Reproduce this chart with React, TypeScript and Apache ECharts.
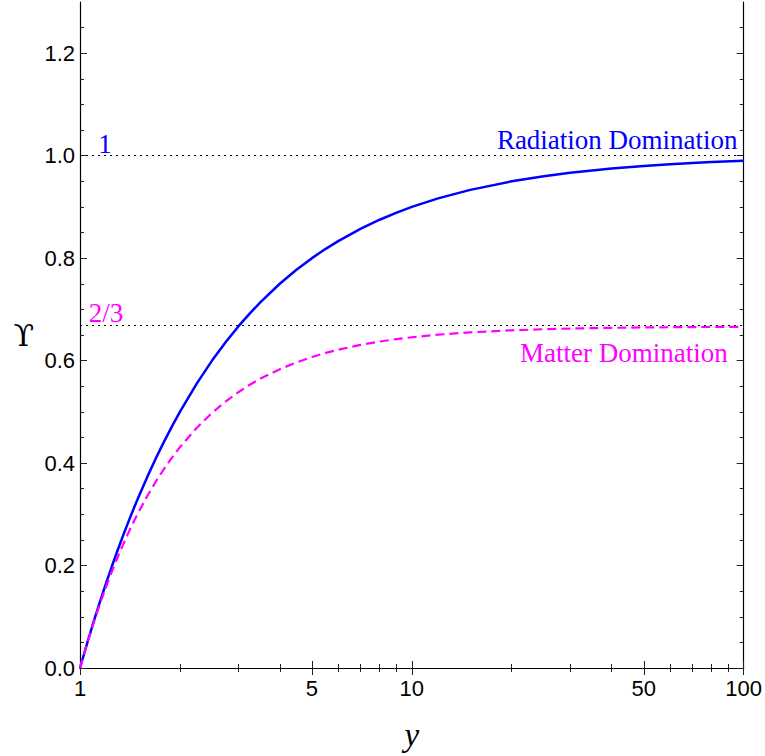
import React, { useEffect, useRef } from "react";
import * as echarts from "echarts";

// y (horizontal axis variable) sample points
const xs = [1, 1.05, 1.1, 1.15, 1.2, 1.25, 1.3, 1.35, 1.4, 1.45, 1.5, 1.6, 1.7, 1.8, 1.9, 2, 2.25, 2.5, 2.75, 3, 3.25, 3.5, 4, 4.5, 5, 5.5, 6, 7, 8, 9, 10, 12, 15, 20, 25, 30, 40, 50, 60, 70, 80, 100];
// Upsilon, radiation domination (solid blue)
const radiation = [0, 0.0476, 0.0909, 0.1304, 0.1667, 0.2, 0.2308, 0.2593, 0.2857, 0.3103, 0.3333, 0.375, 0.4118, 0.4444, 0.4737, 0.5, 0.5556, 0.6, 0.6364, 0.6667, 0.6923, 0.7143, 0.75, 0.7778, 0.8, 0.8182, 0.8333, 0.8571, 0.875, 0.8889, 0.9, 0.9167, 0.9333, 0.95, 0.96, 0.9667, 0.975, 0.98, 0.9833, 0.9857, 0.9875, 0.99];
// Upsilon, matter domination (dashed magenta)
const matter = [0, 0.0471, 0.0888, 0.1261, 0.1595, 0.1896, 0.2169, 0.2417, 0.2642, 0.2849, 0.3038, 0.3373, 0.3659, 0.3906, 0.4121, 0.431, 0.4691, 0.498, 0.5205, 0.5383, 0.5529, 0.5649, 0.5833, 0.5968, 0.607, 0.615, 0.6213, 0.6307, 0.6372, 0.642, 0.6456, 0.6506, 0.6552, 0.6592, 0.6613, 0.6626, 0.664, 0.6648, 0.6652, 0.6655, 0.6657, 0.666];

const refLevels = [1, 2 / 3];

const xMajorTicks = [1, 5, 10, 50, 100];
const xMinorTicks = [2, 3, 4, 6, 7, 8, 9, 20, 30, 40, 60, 70, 80, 90];
const yMajorTicks = [0, 0.2, 0.4, 0.6, 0.8, 1.0, 1.2];
const yMinorTicks = [0.05, 0.1, 0.15, 0.25, 0.3, 0.35, 0.45, 0.5, 0.55, 0.65, 0.7, 0.75, 0.85, 0.9, 0.95, 1.05, 1.1, 1.15, 1.25];

const SANS = "Liberation Sans, Arial, sans-serif";
const SERIF = "Liberation Serif, Times New Roman, serif";
const BLUE = "#0000ff";
const MAGENTA = "#ff00ff";

export default function App() {
  const ref = useRef<HTMLDivElement>(null);
  useEffect(() => {
    document.body.style.margin = "0";
    const chart = echarts.init(ref.current!, null, { renderer: "svg" });
    const lineStyle = { color: "#000", width: 1.2 };
    const tickStyle = { color: "#222", width: 1 };

    const xAx = (position: string, ticks: number[], len: number, showLine: boolean, labels: boolean, extra: any = {}) => ({
      type: "log",
      logBase: 10,
      min: 1,
      max: 100,
      position,
      axisLine: { show: showLine, lineStyle },
      axisTick: { show: true, inside: true, length: len, customValues: ticks, lineStyle: tickStyle },
      axisLabel: labels
        ? { show: true, customValues: ticks, formatter: (v: number) => String(Math.round(v)), fontFamily: SANS, fontSize: 22, color: "#000", margin: 9 }
        : { show: false },
      splitLine: { show: false },
      minorTick: { show: false },
      ...extra,
    });
    const yAx = (position: string, ticks: number[], len: number, showLine: boolean, labels: boolean, extra: any = {}) => ({
      type: "value",
      min: 0,
      max: 1.3,
      position,
      axisLine: { show: showLine, lineStyle },
      axisTick: { show: true, inside: true, length: len, customValues: ticks, lineStyle: tickStyle },
      axisLabel: labels
        ? { show: true, customValues: ticks, formatter: (v: number) => v.toFixed(1), fontFamily: SANS, fontSize: 22, color: "#000", margin: 5 }
        : { show: false },
      splitLine: { show: false },
      minorTick: { show: false },
      ...extra,
    });

    chart.setOption({
      animation: false,
      backgroundColor: "#fff",
      grid: { left: 80, right: 20, top: 2, bottom: 88, containLabel: false },
      xAxis: [
        xAx("bottom", xMajorTicks, 7, true, true, {
          name: "y",
          nameLocation: "middle",
          nameGap: 50,
          nameTextStyle: { fontFamily: SERIF, fontStyle: "italic", fontSize: 33, color: "#000" },
        }),
        xAx("bottom", xMinorTicks, 4, false, false),
        xAx("top", xMajorTicks, 7, true, false),
        xAx("top", xMinorTicks, 4, false, false),
      ],
      yAxis: [
        yAx("left", yMajorTicks, 7, true, true, {
          name: "\u03D2",
          nameLocation: "middle",
          nameRotate: 0,
          nameGap: 46,
          nameTextStyle: { fontFamily: "DejaVu Serif, Liberation Serif, serif", fontSize: 30, color: "#000" },
        }),
        yAx("left", yMinorTicks, 4, false, false),
        yAx("right", yMajorTicks, 7, true, false),
        yAx("right", yMinorTicks, 4, false, false),
      ],
      series: [
        {
          type: "line",
          xAxisIndex: 0,
          yAxisIndex: 0,
          data: xs.map((x, i) => [x, radiation[i]]),
          showSymbol: false,
          symbol: "none",
          lineStyle: { color: BLUE, width: 2.5 },
          z: 3,
          markLine: {
            silent: true,
            symbol: "none",
            label: { show: false },
            lineStyle: { color: "#000", width: 1, type: [2, 4] },
            data: refLevels.map((v) => ({ yAxis: v })),
            z: 1,
          },
          markPoint: {
            symbol: "circle",
            symbolSize: 0,
            silent: true,
            data: [
              { name: "1", coord: [1.189, 1.0224], label: { position: "inside", color: BLUE } },
              { name: "2/3", coord: [1.197, 0.6927], label: { position: "inside", color: MAGENTA } },
              { name: "Radiation Domination", coord: [95.9, 1.0302], label: { position: "left", distance: 0, color: BLUE } },
              { name: "Matter Domination", coord: [89.5, 0.6146], label: { position: "left", distance: 0, color: MAGENTA } },
            ],
            label: { show: true, formatter: "{b}", fontFamily: SERIF, fontSize: 27 },
          },
        },
        {
          type: "line",
          xAxisIndex: 0,
          yAxisIndex: 0,
          data: xs.map((x, i) => [x, matter[i]]),
          showSymbol: false,
          symbol: "none",
          lineStyle: { color: MAGENTA, width: 2.2, type: [9, 5] },
          z: 4,
        },
      ],
    });
    return () => chart.dispose();
  }, []);
  return <div ref={ref} style={{ width: 765, height: 756 }} />;
}
